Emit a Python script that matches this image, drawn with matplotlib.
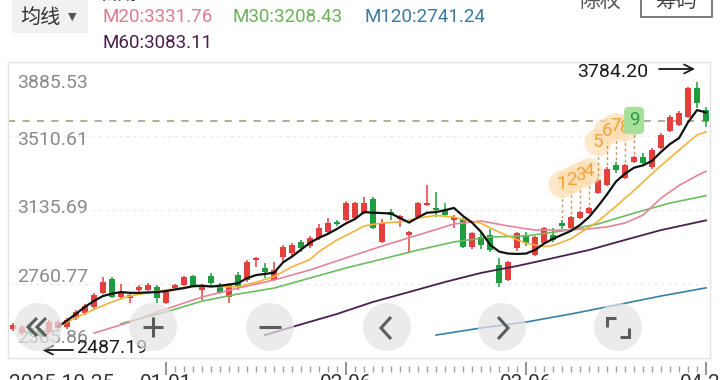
import numpy as np
import matplotlib.pyplot as plt
from matplotlib.patches import Circle
from matplotlib.lines import Line2D
from matplotlib.transforms import IdentityTransform, Affine2D, blended_transform_factory

plt.rcParams['font.family'] = ['Roboto', 'Noto Sans CJK SC', 'DejaVu Sans']

W, H = 720, 380

# daily candles, oldest first (78 days)
opens = [2532.7, 2512.5, 2537.8, 2527.7, 2517.5, 2537.8, 2542.9, 2588.5, 2613.8, 2644.2,
         2715.1, 2786.1, 2694.9, 2689.8, 2730.3, 2730.3, 2745.5, 2664.5, 2740.5, 2755.7,
         2801.3, 2730.3, 2801.3, 2755.7, 2694.9, 2806.3, 2781.0, 2882.3, 2841.8, 2781.0,
         2897.5, 2917.8, 2973.5, 2953.3, 2993.8, 3024.2, 3074.9, 3085.0, 3095.1, 3120.5,
         3191.4, 2973.5, 3125.5, 3090.1, 3009.0, 3100.2, 3161.0, 3145.8, 3135.7, 3085.0,
         3090.1, 2948.2, 2998.9, 3009.0, 2857.0, 2781.0, 2943.1, 3009.0, 2907.7, 2968.5,
         3009.0, 3069.8, 3044.5, 3095.1, 3120.5, 3221.8, 3262.3, 3363.7, 3297.8, 3378.8,
         3404.2, 3353.5, 3449.8, 3535.9, 3566.3, 3606.8, 3753.8, 3642.3]
highs = [2563.1, 2553.0, 2547.9, 2537.8, 2578.3, 2578.3, 2588.5, 2629.0, 2659.4, 2715.1,
         2796.2, 2796.2, 2760.7, 2710.1, 2755.7, 2765.8, 2755.7, 2730.3, 2760.7, 2801.3,
         2806.3, 2760.7, 2816.5, 2765.8, 2765.8, 2821.5, 2882.3, 2897.5, 2867.1, 2872.2,
         2958.3, 2968.5, 2983.7, 3003.9, 3064.7, 3095.1, 3085.0, 3181.3, 3176.2, 3201.5,
         3201.5, 3090.1, 3140.7, 3110.3, 3029.3, 3176.2, 3262.3, 3226.9, 3171.1, 3110.3,
         3095.1, 3024.2, 3019.1, 3039.4, 2892.5, 2877.3, 3024.2, 3024.2, 3003.9, 3049.5,
         3044.5, 3085.0, 3105.3, 3130.6, 3150.9, 3297.8, 3353.5, 3378.8, 3368.7, 3409.2,
         3424.4, 3449.8, 3525.8, 3617.0, 3637.2, 3758.8, 3784.20, 3657.5]
lows = [2522.6, 2502.3, 2497.3, 2487.19, 2507.4, 2527.7, 2532.7, 2578.3, 2603.7, 2634.1,
        2710.1, 2689.8, 2684.7, 2664.5, 2720.2, 2725.3, 2664.5, 2659.4, 2730.3, 2750.6,
        2745.5, 2679.7, 2755.7, 2710.1, 2664.5, 2730.3, 2770.9, 2846.9, 2791.1, 2775.9,
        2872.2, 2902.6, 2922.9, 2943.1, 2983.7, 3019.1, 3054.6, 3079.9, 3090.1, 3115.4,
        3039.4, 2968.5, 3085.0, 3049.5, 2922.9, 3095.1, 3155.9, 3100.2, 3100.2, 3044.5,
        2943.1, 2938.1, 2938.1, 2922.9, 2745.5, 2775.9, 2927.9, 2953.3, 2902.6, 2963.4,
        2973.5, 3039.4, 3039.4, 3090.1, 3115.4, 3216.7, 3257.3, 3323.1, 3292.7, 3373.8,
        3363.7, 3343.4, 3444.7, 3530.8, 3561.2, 3601.8, 3652.4, 3556.2]
closes = [2553.0, 2542.9, 2507.4, 2497.3, 2568.2, 2568.2, 2578.3, 2618.9, 2649.3, 2705.0,
          2770.9, 2694.9, 2720.2, 2705.0, 2745.5, 2755.7, 2689.8, 2720.2, 2755.7, 2796.2,
          2750.6, 2755.7, 2765.8, 2715.1, 2755.7, 2745.5, 2872.2, 2892.5, 2821.5, 2831.7,
          2948.2, 2958.3, 2943.1, 2993.8, 3044.5, 3069.8, 3064.7, 3171.1, 3171.1, 3171.1,
          3044.5, 3069.8, 3110.3, 3105.3, 3024.2, 3171.1, 3171.1, 3135.7, 3110.3, 3100.2,
          2948.2, 3019.1, 2958.3, 2933.0, 2765.8, 2872.2, 3019.1, 2968.5, 2998.9, 3044.5,
          2983.7, 3054.6, 3100.2, 3125.5, 3145.8, 3287.7, 3343.4, 3338.3, 3363.7, 3404.2,
          3373.8, 3439.6, 3515.6, 3606.8, 3627.1, 3753.8, 3677.8, 3586.6]

# moving averages: (day index, value)
ma5_idx = list(range(5, 78))
ma5 = [2545, 2575, 2610, 2645, 2675, 2700, 2712, 2720, 2716, 2716,
       2718, 2720, 2725, 2733, 2740, 2750, 2752, 2748, 2752, 2758,
       2765, 2790, 2806, 2812, 2818, 2870, 2900, 2935, 2970, 2995,
       3015, 3040, 3068, 3090, 3125, 3122, 3120, 3118, 3095, 3072,
       3098, 3122, 3125, 3135, 3146, 3105, 3072, 3025, 2960, 2925,
       2915, 2913, 2915, 2933, 2965, 2990, 3010, 3030, 3060, 3100,
       3155, 3215, 3280, 3320, 3350, 3362, 3385, 3430, 3470, 3500,
       3580, 3642, 3630]
ma10_idx = [5, 7, 9, 11, 13, 15, 17, 19, 21, 23, 25, 27, 29, 31, 33, 34, 36, 38, 39,
            41, 43, 45, 47, 49, 50, 52, 54, 56, 57, 59, 60, 62, 63, 65, 67, 69, 71,
            73, 75, 76, 77]
ma10 = [2545, 2590, 2632, 2670, 2700, 2716, 2730, 2743, 2750, 2748, 2747, 2770, 2798,
        2848, 2885, 2925, 2984, 3030, 3055, 3070, 3075, 3095, 3108, 3100, 3088, 3068,
        3024, 2985, 2968, 2950, 2956, 2990, 3020, 3078, 3155, 3235, 3320, 3400, 3478,
        3516, 3531]
ma20_idx = [9, 13, 17, 21, 25, 29, 33, 37, 41, 45, 49, 52, 55, 58, 61, 64, 66, 68,
            70, 72, 74, 76, 77]
ma20 = [2512, 2568, 2634, 2695, 2740, 2781, 2832, 2893, 2953, 3009, 3065, 3080, 3055,
        3034, 3034, 3040, 3050, 3070, 3110, 3196, 3260, 3310, 3331.76]
ma30_idx = [12, 17, 21, 25, 29, 33, 37, 41, 45, 49, 53, 57, 61, 65, 69, 73, 77]
ma30 = [2560, 2619, 2674, 2710, 2740, 2791, 2842, 2887, 2933, 2974, 2999, 3004, 3029,
        3065, 3120, 3171, 3208.43]
ma60_idx = [28, 31, 36, 40, 44, 48, 52, 56, 60, 64, 68, 72, 77]
ma60 = [2502, 2543, 2609, 2670, 2720, 2771, 2817, 2852, 2892, 2933, 2984, 3034, 3083.11]
ma120_idx = [47, 52, 57, 62, 67, 72, 77]
ma120 = [2502, 2538, 2568, 2609, 2654, 2700, 2741.24]

y_ticks = [3885.53, 3510.61, 3135.69, 2760.77, 2385.86]
td_start = 61          # first bar of the 1..9 count
major_days = [17, 37, 57, 77]
date_labels = ['2025-10-25', '01-01', '02-06', '03-06', '04-24']

RED, GREEN = '#e3403d', '#1e9c3f'

fig = plt.figure(figsize=(W / 100, H / 100), dpi=100)
fig.patch.set_facecolor('white')
ax = fig.add_axes([8 / W, 1 - 358 / H, 702 / W, 296 / H])
ax.set_xlim(-0.556, 77.44)
ax.set_ylim(y_ticks[-1], y_ticks[0])
ax.set_xticks([])
ax.set_yticks([])
for s in ax.spines.values():
    s.set_color('#e3e3e3')
    s.set_linewidth(1)

for v in y_ticks[1:-1]:
    ax.axhline(v, color='#e9e9e9', ls=(0, (2, 3)), lw=1, zorder=0)

label_dy = [-21, -4, 2, 7, 20]
for v, dy in zip(y_ticks, label_dy):
    ax.annotate(f'{v:.2f}', xy=(0, v), xycoords=('axes fraction', 'data'),
                xytext=(9, dy), textcoords='offset pixels', va='center', ha='left',
                fontsize=14, color='#8a8a8a', zorder=1)

# candles
o = np.array(opens); c = np.array(closes)
hi = np.array(highs); lo = np.array(lows)
idx = np.arange(len(c))
col = np.where(c >= o, RED, GREEN)
ax.vlines(idx, lo, hi, colors=col, lw=1.1, zorder=3)
ax.bar(idx, np.maximum(np.abs(c - o), 8), bottom=np.minimum(o, c), width=0.64,
       color=col, zorder=3)

# moving averages
ax.plot(ma120_idx, ma120, color='#3a7ea4', lw=1.2, zorder=4)
ax.plot(ma60_idx, ma60, color='#4b1f4f', lw=1.3, zorder=4)
ax.plot(ma30_idx, ma30, color='#6cbd5e', lw=1.2, zorder=4)
ax.plot(ma20_idx, ma20, color='#e6849a', lw=1.2, zorder=4)
ax.plot(ma10_idx, ma10, color='#f0b43e', lw=1.2, zorder=4)
ax.plot(ma5_idx, ma5, color='#111111', lw=1.6, zorder=5)

# last close
ax.axhline(closes[-1], color='#a9a98e', ls=(0, (4, 4)), lw=1.3, zorder=2)

# TD sequential count
for k in range(9):
    i = td_start + k
    top = highs[i] + 180
    ax.vlines(i, highs[i] + 8, top - 55, colors='#c9975e', lw=1, ls=(0, (2, 2)), zorder=6)
    if k < 8:
        ax.scatter([i], [top], s=380, color='#fcdcae', alpha=0.65, edgecolors='none', zorder=6)
        ax.text(i, top, str(k + 1), ha='center', va='center', fontsize=13.5,
                color='#f2a33a', zorder=7)
    else:
        ax.text(i, top, '9', ha='center', va='center', fontsize=13.5, color='#2e9a44',
                zorder=7, bbox=dict(boxstyle='round,pad=0.25', fc='#a8df9a', ec='none'))


def shifted(dx, dy):
    # data point moved by a fixed number of pixels
    return ax.transData + Affine2D().translate(dx, dy)


# high / low marks
imax = int(np.argmax(hi)); imin = int(np.argmin(lo))
ax.annotate(f'{hi[imax]:.2f}', xy=(imax, hi[imax]), xytext=(-84, 10),
            textcoords='offset pixels', ha='center', va='center', fontsize=14,
            color='#1a1a1a', zorder=9)
ax.annotate('', xy=(imax, hi[imax]), xycoords=shifted(-2, 13),
            xytext=(imax, hi[imax]), textcoords=shifted(-38, 13),
            arrowprops=dict(arrowstyle='->', color='#1a1a1a', lw=1.3,
                            shrinkA=0, shrinkB=0, mutation_scale=16), zorder=9)
ax.annotate(f'{lo[imin]:.2f}', xy=(imin, lo[imin]), xytext=(72, -10),
            textcoords='offset pixels', ha='center', va='center', fontsize=14,
            color='#1a1a1a', zorder=12, annotation_clip=False)
ax.annotate('', xy=(imin, lo[imin]), xycoords=shifted(2, -12),
            xytext=(imin, lo[imin]), textcoords=shifted(33, -12),
            arrowprops=dict(arrowstyle='->', color='#1a1a1a', lw=1.3,
                            shrinkA=0, shrinkB=0, mutation_scale=16), zorder=12,
            annotation_clip=False)

# x ticks below the frame
bt = blended_transform_factory(ax.transData, ax.transAxes)
minor = [d for d in range(major_days[0], major_days[-1] + 1) if d not in major_days]
ax.vlines(minor, -0.027, -0.048, transform=bt, colors='#a0a0a0', lw=1, clip_on=False)
ax.vlines(major_days, -0.015, -0.058, transform=bt, colors='#8a8a8a', lw=1.3,
          clip_on=False)
lab_y = -(374 - 358) / 296
ax.text(-0.4, lab_y, date_labels[0], transform=bt, ha='left', va='top', fontsize=15,
        color='#333333', clip_on=False)
for d, lab in zip(major_days, date_labels[1:]):
    ax.text(d, lab_y, lab, transform=bt, ha='center', va='top', fontsize=15,
            color='#333333', clip_on=False)


# floating buttons (pixel coords, origin top-left)
def P(x, y):
    return (x, H - y)


ident = IdentityTransform()
for bx in [38, 153, 270, 387, 502, 618]:
    fig.add_artist(Circle(P(bx, 327), 24, transform=ident, fc='#e4e4e4', ec='none',
                          alpha=0.72, zorder=10))


def seg(pts, lw=2.2, color='#5c5c5c'):
    xs = [p[0] for p in pts]; ys = [H - p[1] for p in pts]
    fig.add_artist(Line2D(xs, ys, transform=ident, color=color, lw=lw, zorder=11,
                          solid_joinstyle='miter', solid_capstyle='butt'))


seg([(37, 318), (28, 327), (37, 336)])
seg([(46, 318), (37, 327), (46, 336)])
seg([(143, 327), (163, 327)]); seg([(153, 317), (153, 337)])
seg([(259, 327), (281, 327)])
seg([(391, 317), (381, 328), (391, 339)])
seg([(498, 317), (508, 328), (498, 339)])
seg([(607, 327), (607, 318), (616, 318)])
seg([(620, 337), (629, 337), (629, 328)])

# header
fig.add_artist(plt.Rectangle(P(12, 33), 76, 33, transform=ident, fc='#f1f1f1',
                             ec='none', zorder=1))
fig.text(20 / W, 1 - 17 / H, '均线', fontsize=14.5, color='#333333', va='center')
fig.text(68 / W, 1 - 17 / H, '▼', fontsize=8, color='#555555', va='center',
         family=['DejaVu Sans'])
fig.text(102 / W, 1 - 17 / H, 'M20:3331.76', fontsize=13.5, color='#e07c8e', va='center')
fig.text(232 / W, 1 - 17 / H, 'M30:3208.43', fontsize=13.5, color='#6bb25a', va='center')
fig.text(364 / W, 1 - 17 / H, 'M120:2741.24', fontsize=13.5, color='#3a7aa2', va='center')
fig.text(102 / W, 1 - 43 / H, 'M60:3083.11', fontsize=13.5, color='#4a1f4d', va='center')
fig.text(100 / W, 1 + 5 / H, '日期', fontsize=13.5, color='#333333', va='center')
fig.text(600 / W, 1 - 1 / H, '除权', fontsize=15, color='#555555', va='center', ha='center')
fig.add_artist(plt.Rectangle(P(641, 17), 71, 30, transform=ident, fc='white',
                             ec='#666666', lw=1.2, zorder=1))
fig.text(676 / W, 1 - 1 / H, '筹码', fontsize=15, color='#444444', va='center',
         ha='center', zorder=2)

fig.savefig('out.png', dpi=100)
